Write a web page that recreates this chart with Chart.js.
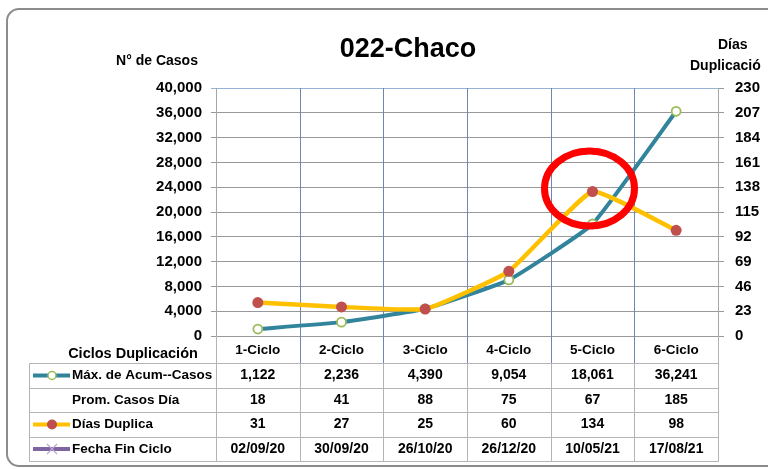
<!DOCTYPE html>
<html>
<head>
<meta charset="utf-8">
<script src="https://cdn.jsdelivr.net/npm/chart.js@4/dist/chart.umd.min.js"></script>
<style>
  html, body { margin: 0; padding: 0; background: #fff; }
  #wrap { width: 768px; height: 469px; position: relative; }
</style>
</head>
<body>
<div id="wrap"><canvas id="c" width="768" height="469"></canvas></div>
<script>
// ---- Data ----
const categories = ['1-Ciclo', '2-Ciclo', '3-Ciclo', '4-Ciclo', '5-Ciclo', '6-Ciclo'];
const maxAcumCasos = [1122, 2236, 4390, 9054, 18061, 36241];
const promCasosDia = [18, 41, 88, 75, 67, 185];
const diasDuplica = [31, 27, 25, 60, 134, 98];
const fechaFinCiclo = ['02/09/20', '30/09/20', '26/10/20', '26/12/20', '10/05/21', '17/08/21'];
const rowLabels = ['Máx. de Acum--Casos', 'Prom. Casos Día', 'Días Duplica', 'Fecha Fin Ciclo'];
const titleText = '022-Chaco';
const leftAxisTitle = 'N° de Casos';
const rightAxisTitle = ['Días', 'Duplicació'];
const tableHeader = 'Ciclos Duplicación';
const highlightIndex = 4; // circled point on "Días Duplica"

const FONT = "'Liberation Sans', Arial, sans-serif";
const TEAL = '#31849B', GREEN = '#9BBB59', YELLOW = '#FFC000', RED = '#C0504D', PURPLE = '#8064A2';

const fmt = v => Number(v).toLocaleString('en-US');

const framePlugin = {
  id: 'frame',
  beforeDraw(chart) {
    const ctx = chart.ctx;
    ctx.save();
    ctx.fillStyle = '#fff';
    ctx.fillRect(0, 0, chart.width, chart.height);
    ctx.strokeStyle = '#8c8c8c';
    ctx.lineWidth = 2;
    ctx.beginPath();
    ctx.roundRect(7, 9, 790, 457, 12);
    ctx.stroke();
    ctx.restore();
  }
};

const tablePlugin = {
  id: 'table',
  beforeDatasetsDraw(chart) {
    const ctx = chart.ctx, x = chart.scales.x, a = chart.chartArea;
    const half = (x.getPixelForValue(1) - x.getPixelForValue(0)) / 2;
    ctx.save();
    ctx.lineWidth = 1;
    ctx.strokeStyle = '#6A88B3';
    for (let i = 1; i < categories.length; i++) {
      const px = Math.round(x.getPixelForValue(i) - half) + 0.5;
      ctx.beginPath(); ctx.moveTo(px, a.top); ctx.lineTo(px, 363); ctx.stroke();
    }
    ctx.restore();
  },
  afterDraw(chart) {
    const ctx = chart.ctx, x = chart.scales.x, a = chart.chartArea;
    const half = (x.getPixelForValue(1) - x.getPixelForValue(0)) / 2;
    const left = 29, right = Math.round(a.right) + 0.5;
    const rowLines = [363, 388, 412, 437, 461];
    const rowCenters = [375.5, 400, 424.5, 449];
    ctx.save();
    ctx.strokeStyle = '#B4B4B4';
    ctx.lineWidth = 1;
    rowLines.forEach(y => {
      ctx.beginPath(); ctx.moveTo(left + 0.5, y + 0.5); ctx.lineTo(right, y + 0.5); ctx.stroke();
    });
    ctx.beginPath(); ctx.moveTo(left + 0.5, 363.5); ctx.lineTo(left + 0.5, 461.5); ctx.stroke();
    for (let i = 0; i <= categories.length; i++) {
      const px = Math.round(x.getPixelForValue(i) - half) + 0.5;
      const top = (i === 0 || i === categories.length) ? a.bottom : 363;
      ctx.beginPath(); ctx.moveTo(px, top); ctx.lineTo(px, 461.5); ctx.stroke();
    }
    ctx.fillStyle = '#000';
    ctx.textBaseline = 'middle';
    ctx.textAlign = 'center';
    ctx.font = 'bold 14.5px ' + FONT;
    ctx.fillText(tableHeader, 133, 354);
    ctx.font = 'bold 13.5px ' + FONT;
    categories.forEach((c, i) => ctx.fillText(c, x.getPixelForValue(i), 350));
    const rows = [maxAcumCasos.map(fmt), promCasosDia.map(String), diasDuplica.map(String), fechaFinCiclo];
    rows.forEach((vals, r) => {
      const y = rowCenters[r];
      ctx.textAlign = 'left';
      ctx.font = 'bold 13.5px ' + FONT;
      ctx.fillText(rowLabels[r], 72, y);
      ctx.textAlign = 'center';
      ctx.font = 'bold 14px ' + FONT;
      vals.forEach((v, i) => ctx.fillText(v, x.getPixelForValue(i), y));
    });
    const key = (y, color, draw) => {
      ctx.strokeStyle = color; ctx.lineWidth = 4;
      ctx.beginPath(); ctx.moveTo(33, y); ctx.lineTo(70, y); ctx.stroke();
      draw(52, y);
    };
    key(rowCenters[0], TEAL, (cx, cy) => {
      ctx.beginPath(); ctx.arc(cx, cy, 4, 0, Math.PI * 2);
      ctx.fillStyle = '#fff'; ctx.fill(); ctx.lineWidth = 1.5; ctx.strokeStyle = GREEN; ctx.stroke();
    });
    key(rowCenters[2], YELLOW, (cx, cy) => {
      ctx.beginPath(); ctx.arc(cx, cy, 5, 0, Math.PI * 2);
      ctx.fillStyle = RED; ctx.fill();
    });
    key(rowCenters[3], PURPLE, (cx, cy) => {
      ctx.strokeStyle = '#B9A6D3'; ctx.lineWidth = 1.2;
      ctx.beginPath(); ctx.moveTo(cx - 5, cy - 5); ctx.lineTo(cx + 5, cy + 5);
      ctx.moveTo(cx + 5, cy - 5); ctx.lineTo(cx - 5, cy + 5); ctx.stroke();
    });
    ctx.fillStyle = '#000';
    ctx.textAlign = 'center';
    ctx.textBaseline = 'middle';
    ctx.font = 'bold 27px ' + FONT;
    ctx.fillText(titleText, 408, 50);
    ctx.font = 'bold 14px ' + FONT;
    ctx.fillText(leftAxisTitle, 157, 61);
    ctx.textAlign = 'left';
    ctx.fillText(rightAxisTitle[0], 718, 45);
    ctx.fillText(rightAxisTitle[1], 690, 66);
    ctx.restore();
  }
};

const highlightPlugin = {
  id: 'highlight',
  afterDatasetsDraw(chart) {
    const ctx = chart.ctx;
    const cx = chart.scales.x.getPixelForValue(highlightIndex) - 3;
    const cy = chart.scales.y1.getPixelForValue(diasDuplica[highlightIndex]) - 3;
    ctx.save();
    ctx.strokeStyle = '#FF0000';
    ctx.lineWidth = 7;
    ctx.beginPath();
    ctx.ellipse(cx, cy, 45, 37.5, 0, 0, Math.PI * 2);
    ctx.stroke();
    ctx.restore();
  }
};

new Chart(document.getElementById('c'), {
  type: 'line',
  data: {
    labels: categories,
    datasets: [
      {
        label: rowLabels[0],
        data: maxAcumCasos,
        yAxisID: 'y',
        borderColor: TEAL,
        borderWidth: 4,
        tension: 0.12,
        pointRadius: 4.5,
        pointBorderWidth: 1.8,
        pointBackgroundColor: '#fff',
        pointBorderColor: GREEN,
        order: 2
      },
      {
        label: rowLabels[2],
        data: diasDuplica,
        yAxisID: 'y1',
        borderColor: YELLOW,
        borderWidth: 4.5,
        tension: 0.12,
        pointRadius: 5.5,
        pointBorderWidth: 0,
        pointBackgroundColor: RED,
        pointBorderColor: RED,
        order: 1
      }
    ]
  },
  options: {
    responsive: false,
    animation: false,
    layout: { padding: { top: 88, bottom: 133, left: 0, right: 0 } },
    plugins: { legend: { display: false }, title: { display: false }, tooltip: { enabled: false } },
    scales: {
      x: { type: 'category', offset: true, display: false },
      y: {
        position: 'left',
        min: 0, max: 40000,
        afterFit: s => { s.width = 216; },
        ticks: { stepSize: 4000, padding: 9, color: '#000', font: { family: FONT, size: 15, weight: 'bold' }, callback: v => fmt(v) },
        grid: {
          color: ctx => (ctx.tick && ctx.tick.value === 40000) ? '#95B3D7' : '#999999',
          tickLength: 5, lineWidth: 1
        },
        border: { display: true, color: '#A6A6A6', width: 1 }
      },
      y1: {
        position: 'right',
        min: 0, max: 230,
        afterFit: s => { s.width = 50; },
        ticks: { stepSize: 23, padding: 11, color: '#000', font: { family: FONT, size: 15, weight: 'bold' } },
        grid: { drawOnChartArea: false, color: '#999999', tickLength: 6 },
        border: { display: true, color: '#A6A6A6', width: 1 }
      }
    }
  },
  plugins: [framePlugin, tablePlugin, highlightPlugin]
});
</script>
</body>
</html>
